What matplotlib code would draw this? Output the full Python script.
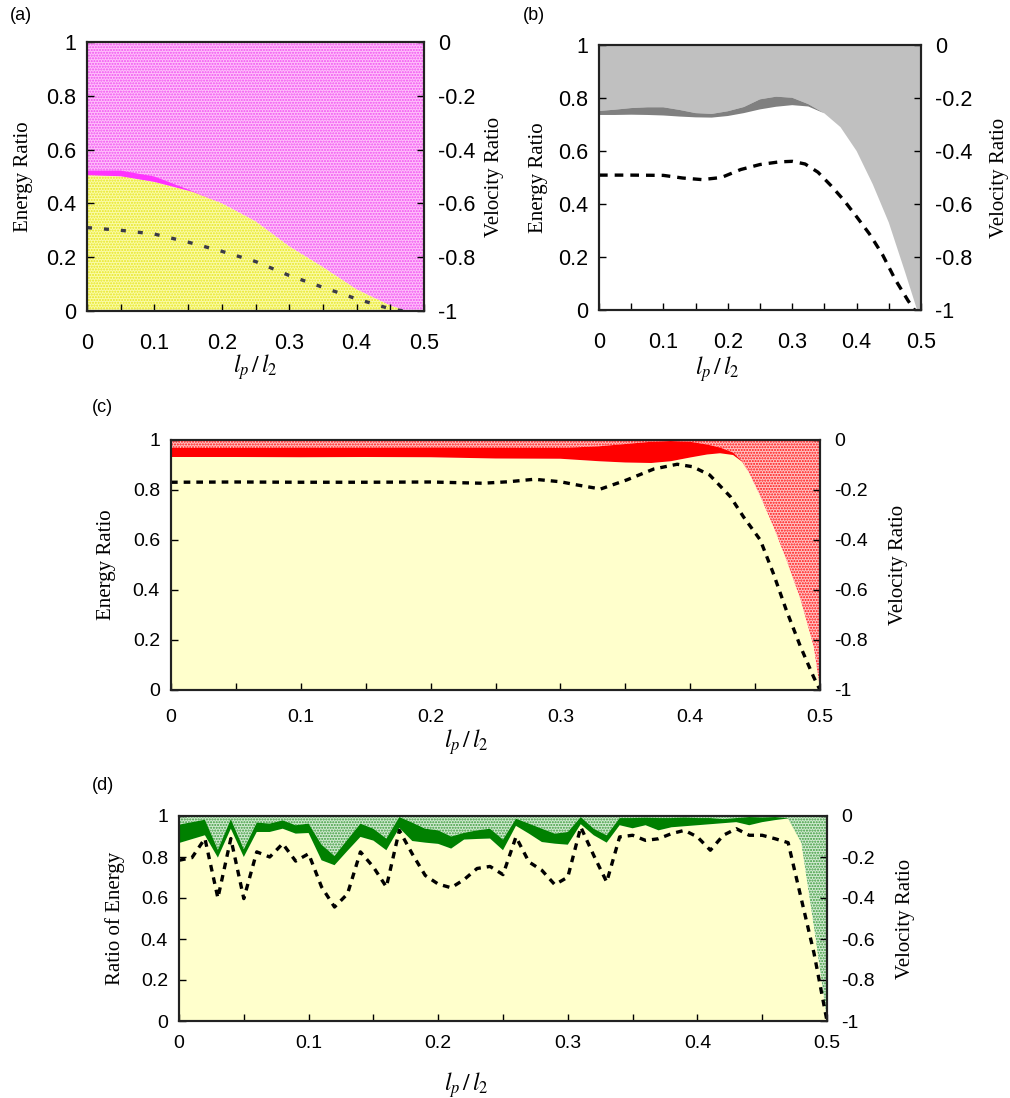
import numpy as np
import matplotlib
matplotlib.use('Agg')
import matplotlib.pyplot as plt
from matplotlib.ticker import MultipleLocator

plt.rcParams['font.family'] = ['Liberation Sans', 'DejaVu Sans']
plt.rcParams['mathtext.fontset'] = 'stix'
plt.rcParams['axes.unicode_minus'] = False
plt.rcParams['hatch.linewidth'] = 1.0

# ---- panel (a) ----
xa = [0, 0.05, 0.1, 0.157, 0.2, 0.25, 0.3, 0.35, 0.4, 0.45, 0.474, 0.5]
ea_low = [0.505, 0.501, 0.48, 0.443, 0.40, 0.333, 0.24, 0.163, 0.08, 0.02, 0.0, 0.0]
ea_high = [0.522, 0.522, 0.50, 0.445, 0.40, 0.333, 0.24, 0.163, 0.08, 0.02, 0.0, 0.0]
xa_v = [0, 0.05, 0.1, 0.15, 0.2, 0.25, 0.3, 0.35, 0.4, 0.45, 0.47]
va = [-0.69, -0.70, -0.714, -0.744, -0.778, -0.816, -0.868, -0.912, -0.955, -0.992, -1.0]

# ---- panel (b) ----
xb = [0, 0.025, 0.05, 0.075, 0.1, 0.125, 0.15, 0.175, 0.2, 0.225, 0.25, 0.275,
      0.3, 0.325, 0.35, 0.375, 0.4, 0.425, 0.45, 0.475, 0.494, 0.5]
eb_high = [0.751, 0.756, 0.762, 0.765, 0.765, 0.755, 0.743, 0.74, 0.75, 0.766, 0.795, 0.805,
           0.801, 0.777, 0.742, 0.69, 0.6, 0.475, 0.33, 0.145, 0.0, 0.0]
eb_low = [0.736, 0.736, 0.737, 0.736, 0.734, 0.73, 0.727, 0.726, 0.732, 0.743, 0.757, 0.767,
          0.773, 0.768, 0.742, 0.69, 0.6, 0.475, 0.33, 0.145, 0.0, 0.0]
xb_v = [0, 0.05, 0.1, 0.13, 0.16, 0.19, 0.22, 0.25, 0.28, 0.3, 0.32, 0.34,
        0.36, 0.38, 0.4, 0.42, 0.44, 0.46, 0.48, 0.49]
vb = [-0.491, -0.491, -0.492, -0.502, -0.508, -0.5, -0.47, -0.451, -0.441, -0.439, -0.449, -0.48,
      -0.53, -0.585, -0.648, -0.713, -0.79, -0.885, -0.965, -1.0]

# ---- panel (c) ----
xc = [0, 0.05, 0.1, 0.15, 0.2, 0.25, 0.3, 0.33, 0.35, 0.37, 0.385, 0.4, 0.413,
      0.423, 0.433, 0.44, 0.445, 0.454, 0.464, 0.474, 0.485, 0.495, 0.5]
ec_high = [0.968, 0.968, 0.969, 0.969, 0.97, 0.969, 0.968, 0.975, 0.984, 0.993, 0.996, 0.993, 0.982,
           0.97, 0.95, 0.915, 0.87, 0.773, 0.653, 0.52, 0.36, 0.173, 0.0]
ec_low = [0.932, 0.932, 0.931, 0.932, 0.931, 0.926, 0.925, 0.915, 0.91, 0.908, 0.915, 0.93, 0.942,
          0.947, 0.94, 0.913, 0.87, 0.773, 0.653, 0.52, 0.36, 0.173, 0.0]
xc_v = [0, 0.05, 0.1, 0.15, 0.2, 0.24, 0.26, 0.28, 0.3, 0.313, 0.331, 0.351, 0.372, 0.39,
        0.402, 0.415, 0.431, 0.441, 0.454, 0.464, 0.474, 0.485, 0.495, 0.5]
vc = [-0.169, -0.168, -0.169, -0.169, -0.168, -0.173, -0.167, -0.157, -0.167, -0.18, -0.196, -0.16,
      -0.116, -0.097, -0.107, -0.14, -0.227, -0.307, -0.4, -0.533, -0.68, -0.827, -0.947, -1.0]

# ---- panel (d) ----
xd = [0.00, 0.01, 0.02, 0.03, 0.04, 0.05, 0.06, 0.07, 0.08, 0.09,
      0.10, 0.11, 0.12, 0.13, 0.14, 0.15, 0.16, 0.17, 0.18, 0.19,
      0.20, 0.21, 0.22, 0.23, 0.24, 0.25, 0.26, 0.27, 0.28, 0.29,
      0.30, 0.31, 0.32, 0.33, 0.34, 0.35, 0.36, 0.37, 0.38, 0.39,
      0.40, 0.41, 0.42, 0.43, 0.44, 0.45, 0.46, 0.47, 0.48, 0.49, 0.50]
ed_high = [0.958, 0.970, 0.982, 0.835, 0.985, 0.838, 0.968, 0.963, 0.979, 0.955,
           0.963, 0.860, 0.805, 0.885, 0.963, 0.938, 0.890, 0.995, 0.968, 0.938,
           0.930, 0.900, 0.918, 0.930, 0.938, 0.885, 0.987, 0.963, 0.938, 0.914,
           0.922, 0.995, 0.938, 0.906, 0.990, 0.990, 0.992, 0.990, 0.990, 0.993,
           0.990, 0.990, 0.985, 0.990, 0.995, 0.993, 0.995, 0.990, 0.870, 0.450, 0.000]
ed_low = [0.868, 0.887, 0.906, 0.797, 0.938, 0.800, 0.922, 0.922, 0.938, 0.914,
          0.917, 0.784, 0.760, 0.830, 0.898, 0.880, 0.833, 0.942, 0.878, 0.870,
          0.864, 0.841, 0.885, 0.888, 0.890, 0.833, 0.952, 0.914, 0.873, 0.865,
          0.860, 0.960, 0.906, 0.870, 0.955, 0.940, 0.955, 0.930, 0.945, 0.950,
          0.955, 0.960, 0.965, 0.970, 0.955, 0.970, 0.980, 0.988, 0.870, 0.450, 0.000]
vd = [-0.216, -0.203, -0.110, -0.400, -0.110, -0.403, -0.175, -0.200, -0.135, -0.220,
      -0.184, -0.346, -0.444, -0.380, -0.175, -0.249, -0.346, -0.070, -0.185, -0.290,
      -0.332, -0.350, -0.310, -0.256, -0.246, -0.286, -0.102, -0.224, -0.265, -0.335,
      -0.298, -0.054, -0.192, -0.322, -0.102, -0.094, -0.119, -0.111, -0.086, -0.070,
      -0.102, -0.167, -0.094, -0.062, -0.094, -0.094, -0.111, -0.130, -0.400, -0.670, -1.000]

W, H = 1010, 1098
fig = plt.figure(figsize=(W / 100, H / 100), dpi=100)


def box(l, r, t, b):
    return [l / W, 1 - b / H, (r - l) / W, (b - t) / H]


def fmt(v, p):
    return '%g' % round(v, 2)


def style(ax, ylabel, xlab_pos, ylab_x, vlab_x, fs, xpad):
    ax.set_xlim(0, 0.5)
    ax.set_ylim(0, 1)
    ax.xaxis.set_major_locator(MultipleLocator(0.1))
    ax.xaxis.set_minor_locator(MultipleLocator(0.05))
    ax.yaxis.set_major_locator(MultipleLocator(0.2))
    ax.xaxis.set_major_formatter(plt.FuncFormatter(fmt))
    ax.yaxis.set_major_formatter(plt.FuncFormatter(fmt))
    ax.tick_params(direction='in', length=5, width=1, labelsize=fs, pad=8, top=False, right=False)
    ax.tick_params(axis='x', pad=xpad)
    ax.tick_params(which='minor', direction='in', length=5, width=1, top=False)
    for s in ax.spines.values():
        s.set_linewidth(1.5)
        s.set_color('#222222')
    ax.set_ylabel(ylabel, family='Liberation Serif', fontsize=15)
    ax.yaxis.set_label_coords(ylab_x, 0.5)
    ax.set_xlabel(r'$l_p\,/\,l_2$', fontsize=17)
    ax.xaxis.set_label_coords(*xlab_pos)
    tw = ax.twinx()
    tw.set_ylim(-1, 0)
    tw.yaxis.set_major_locator(MultipleLocator(0.2))
    tw.yaxis.set_major_formatter(plt.FuncFormatter(fmt))
    tw.tick_params(direction='in', length=5, width=1, labelsize=fs, pad=10)
    for s in tw.spines.values():
        s.set_linewidth(1.5)
        s.set_color('#222222')
    tw.set_ylabel('Velocity Ratio', family='Liberation Serif', fontsize=15)
    tw.yaxis.set_label_coords(vlab_x, 0.5)
    return tw


# (a)
ax = fig.add_axes(box(87, 424, 42, 311))
ax.fill_between(xa, ea_low, 1, facecolor='#ffc0fb', edgecolor='#f050f0', hatch='......', linewidth=0)
ax.fill_between(xa, 0, ea_low, facecolor='#fbfba8', edgecolor='#e6e620', hatch='......', linewidth=0)
ax.fill_between(xa, ea_low, ea_high, facecolor='#ff33ff', linewidth=0)
tw = style(ax, 'Energy Ratio', (0.5, -0.152), -0.16, 1.18, 15.5, 16)
tw.plot(xa_v, va, color='#3a3a48', lw=2.4, dashes=(1.5, 3.6))

# (b)
ax = fig.add_axes(box(599, 921, 45, 310))
ax.fill_between(xb, eb_high, 1, facecolor='#c0c0c0', linewidth=0)
ax.fill_between(xb, eb_low, eb_high, facecolor='#808080', linewidth=0)
tw = style(ax, 'Energy Ratio', (0.366, -0.168), -0.157, 1.213, 15.5, 16)
tw.plot(xb_v, vb, color='black', lw=2.4, dashes=(2.6, 2.1))

# (c)
ax = fig.add_axes(box(171, 820, 440, 690))
ax.fill_between(xc, ec_high, 1, facecolor='#ffc4c4', edgecolor='#ff1010', hatch='......', linewidth=0)
ax.fill_between(xc, 0, ec_low, facecolor='#ffffcc', linewidth=0)
ax.fill_between(xc, ec_low, ec_high, facecolor='#ff0000', linewidth=0)
tw = style(ax, 'Energy Ratio', (0.455, -0.15), -0.085, 1.106, 14, 14)
tw.plot(xc_v, vc, color='black', lw=2.4, dashes=(2.0, 1.8))

# (d)
ax = fig.add_axes(box(179, 827, 816, 1021))
ax.fill_between(xd, ed_high, 1, facecolor='#d2ead2', edgecolor='#3a9a3a', hatch='......', linewidth=0)
ax.fill_between(xd, 0, ed_low, facecolor='#ffffcc', linewidth=0)
ax.fill_between(xd, ed_low, ed_high, facecolor='#008000', linewidth=0)
tw = style(ax, 'Ratio of Energy', (0.443, -0.24), -0.083, 1.106, 14, 10)
tw.plot(xd, vd, color='black', lw=2.4, dashes=(2.0, 1.8))

for lab, px, py in [('(a)', 10, 15), ('(b)', 523, 15), ('(c)', 92, 408), ('(d)', 92, 785)]:
    fig.text(px / W, 1 - py / H, lab, fontsize=13, ha='left', va='center')

fig.savefig('out.png', dpi=100)
